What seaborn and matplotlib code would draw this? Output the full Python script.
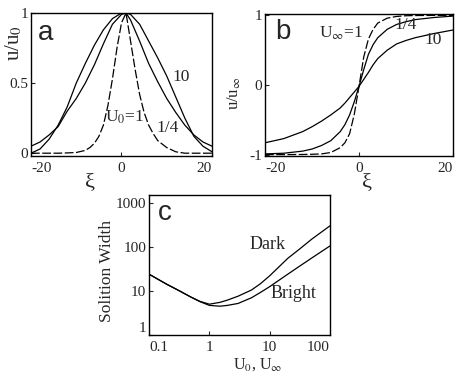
import matplotlib
matplotlib.use("Agg")
import matplotlib.pyplot as plt
import numpy as np
import pandas as pd
import seaborn as sns

# ---------------- data ----------------
# panel a : bright solitons u/u0 vs xi
xi_a_u1 = [-20, -14, -12, -10, -8, -7, -6, -5, -4, -3, -2, -1, 0, 1, 2, 3, 4, 5, 6, 7, 8, 10, 12, 14, 20]
ua_u1 = [0, 0, 0.002, 0.005, 0.02, 0.04, 0.07, 0.12, 0.2, 0.34, 0.53, 0.75, 0.93, 1.0, 0.8, 0.6, 0.42, 0.29, 0.2,
         0.14, 0.09, 0.04, 0.01, 0.0, 0]
xi_a = [-20, -18, -16, -14, -12, -10, -8, -6, -4, -2, 0, 1, 2, 4, 6, 8, 10, 12, 14, 16, 18, 20]
ua_q = [0.05, 0.08, 0.13, 0.19, 0.3, 0.39, 0.5, 0.63, 0.78, 0.92, 0.99, 1.0, 0.95, 0.8, 0.64, 0.51, 0.39, 0.29,
        0.2, 0.13, 0.08, 0.05]
ua_10 = [0.0, 0.03, 0.1, 0.2, 0.33, 0.5, 0.64, 0.77, 0.88, 0.96, 1.0, 1.0, 0.99, 0.92, 0.8, 0.68, 0.55, 0.4,
         0.25, 0.12, 0.05, 0.01]

# panel b : dark solitons u/u_inf vs xi
xi_b = [-20, -16, -12, -10, -8, -6, -4, -3, -2, -1, 0, 1, 2, 3, 4, 6, 8, 10, 12, 16, 20]
ub_u1 = [-1.0, -1.0, -0.998, -0.995, -0.99, -0.97, -0.9, -0.83, -0.7, -0.42, -0.02, 0.4, 0.66, 0.8, 0.89, 0.96,
         0.985, 0.995, 0.998, 1.0, 1.0]
ub_q = [-0.99, -0.98, -0.95, -0.92, -0.87, -0.8, -0.67, -0.57, -0.43, -0.24, -0.02, 0.22, 0.44, 0.58, 0.68, 0.8,
        0.87, 0.91, 0.94, 0.97, 0.99]
ub_10 = [-0.83, -0.77, -0.67, -0.6, -0.52, -0.43, -0.33, -0.26, -0.18, -0.1, -0.02, 0.08, 0.18, 0.29, 0.38, 0.5,
         0.59, 0.64, 0.68, 0.74, 0.79]

# panel c : soliton width vs U0, U_inf
u_c = [0.1, 0.15, 0.2, 0.3, 0.5, 0.7, 1, 1.5, 2, 3, 5, 7, 10, 20, 30, 50, 70, 100]
w_bright = [24, 17.5, 14, 10.5, 7.2, 5.7, 4.7, 4.5, 4.7, 5.2, 7.0, 9.2, 12.5, 24, 35, 56, 76, 105]
w_dark = [24, 17.5, 14, 10.5, 7.2, 5.8, 5.0, 5.5, 6.2, 7.6, 10.5, 14.5, 22, 55, 85, 150, 210, 300]

# ticks
a_xticks = [-20, 0, 20]
a_yticks = [0, 0.5, 1]
a_yticklabels = ["0", "0.5", "1"]
b_yticks = [-1, 0, 1]
c_ticks_x = [0.1, 1, 10, 100]
c_ticks_x_labels = ["0.1", "1", "10", "100"]
c_ticks_y = [1, 10, 100, 1000]
c_ticks_y_labels = ["1", "10", "100", "1000"]

# ---------------- style ----------------
sns.set_style("ticks")
plt.rcParams["font.family"] = ["Liberation Serif", "DejaVu Serif"]
plt.rcParams["mathtext.fontset"] = "stix"
plt.rcParams["axes.unicode_minus"] = False

fig = plt.figure(figsize=(4.56, 3.72), dpi=100)
W, H = 456, 372


def add_axes(l, r, t, b):
    return fig.add_axes([l / W, 1 - b / H, (r - l) / W, (b - t) / H])


axa = add_axes(31, 212, 13, 156)
axb = add_axes(265, 453, 14, 156)
axc = add_axes(149, 330, 195, 335)

LW = 0.9
dash_map = {"u1": (7, 2), "q": "", "ten": ""}


def long_df(curves):
    frames = []
    for name, xs, ys in curves:
        frames.append(pd.DataFrame({"x": xs, "y": ys, "curve": name}))
    return pd.concat(frames, ignore_index=True)


df_a = long_df([("u1", xi_a_u1, ua_u1), ("q", xi_a, ua_q), ("ten", xi_a, ua_10)])
sns.lineplot(data=df_a, x="x", y="y", style="curve", dashes=dash_map, color="k", lw=LW,
             legend=False, ax=axa, estimator=None, sort=True)

df_b = long_df([("u1", xi_b, ub_u1), ("q", xi_b, ub_q), ("ten", xi_b, ub_10)])
sns.lineplot(data=df_b, x="x", y="y", style="curve", dashes=dash_map, color="k", lw=LW,
             legend=False, ax=axb, estimator=None, sort=True)

df_c = long_df([("Bright", u_c, w_bright), ("Dark", u_c, w_dark)])
sns.lineplot(data=df_c, x="x", y="y", units="curve", color="k", lw=LW,
             legend=False, ax=axc, estimator=None, sort=True)

# ---------------- axes formatting ----------------
TICKFS = 11
for ax in (axa, axb, axc):
    for s in ax.spines.values():
        s.set_visible(True)
        s.set_color("k")
        s.set_linewidth(1.0)
    ax.tick_params(direction="in", length=3, width=0.8, labelsize=TICKFS, pad=2,
                   top=False, right=False)
    ax.grid(False)
    ax.set_xlabel("")
    ax.set_ylabel("")

for ax in (axa, axb):
    ax.set_xlim(-20, 20)
    ax.set_xticks(a_xticks)
    ax.set_xticklabels([str(v) for v in a_xticks])
    ax.tick_params(axis="x", pad=4)
    labs = ax.get_xticklabels()
    labs[0].set_ha("left")
    labs[-1].set_ha("right")

axa.set_ylim(-0.02, 1.0)
axa.set_yticks(a_yticks)
axa.set_yticklabels(a_yticklabels)

axb.set_ylim(-1.02, 1.02)
axb.set_yticks(b_yticks)
axb.set_yticklabels([str(v) for v in b_yticks])

axc.set_xscale("log")
axc.set_yscale("log")
axc.set_xlim(0.1, 100)
axc.set_ylim(1, 1500)
axc.set_xticks(c_ticks_x)
axc.set_xticklabels(c_ticks_x_labels)
axc.set_yticks(c_ticks_y)
axc.set_yticklabels(c_ticks_y_labels)
axc.minorticks_off()
axc.tick_params(axis="x", pad=4)
xl = axc.get_xticklabels()
xl[0].set_ha("left")
xl[-1].set_ha("right")
yl = axc.get_yticklabels()
yl[0].set_va("bottom")

# axis labels
axa.set_ylabel(r"u/u$_0$", fontsize=15)
axa.yaxis.set_label_coords(-0.035, 0.79)
axa.set_xlabel("ξ", fontsize=16)
axa.xaxis.set_label_coords(0.326, -0.12)

axb.set_ylabel(r"u/u$_\infty$", fontsize=12)
axb.yaxis.set_label_coords(-0.115, 0.44)
axb.set_xlabel("ξ", fontsize=16)
axb.xaxis.set_label_coords(0.545, -0.12)

axc.set_ylabel("Solition Width", fontsize=12.5)
axc.yaxis.set_label_coords(-0.19, 0.46)
axc.set_xlabel(r"U$_0$, U$_\infty$", fontsize=11.5)
axc.xaxis.set_label_coords(0.6, -0.155)

# panel letters and curve annotations
LETTER = dict(fontsize=20, family=["Liberation Sans", "DejaVu Sans"], ha="center", va="center")
axa.text(0.083, 0.86, "a", transform=axa.transAxes, **LETTER)
axb.text(0.096, 0.873, "b", transform=axb.transAxes, **LETTER)
axc.text(0.088, 0.87, "c", transform=axc.transAxes, **LETTER)

ANN = dict(fontsize=12.5, ha="center", va="center")
axa.text(0.83, 0.55, "10", transform=axa.transAxes, **ANN)
axa.text(0.52, 0.27, r"U$_0$=1", transform=axa.transAxes, **ANN)
axa.text(0.757, 0.196, "1/4", transform=axa.transAxes, **ANN)

axb.text(0.404, 0.866, r"U$_\infty$=1", transform=axb.transAxes, **ANN)
axb.text(0.75, 0.92, "1/4", transform=axb.transAxes, **ANN)
axb.text(0.894, 0.817, "10", transform=axb.transAxes, **ANN)

axc.text(0.657, 0.643, "Dark", transform=axc.transAxes, fontsize=13, ha="center", va="center")
axc.text(0.80, 0.30, "Bright", transform=axc.transAxes, fontsize=13, ha="center", va="center")

fig.savefig("out.png", dpi=100)
